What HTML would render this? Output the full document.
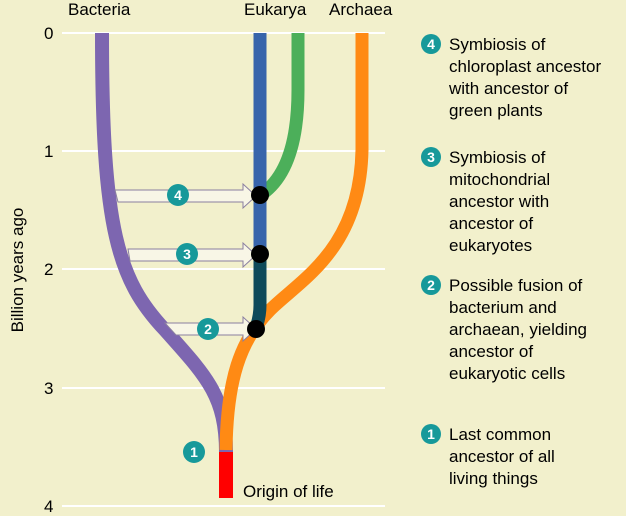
<!DOCTYPE html>
<html><head><style>
body{margin:0;background:#f2f0cc;}
svg{display:block}
text{font-family:"Liberation Sans",Arial,sans-serif;}
</style></head><body>
<svg width="626" height="516" viewBox="0 0 626 516">
<rect width="626" height="516" fill="#f2f0cc"/>
<g stroke="#ffffff" stroke-width="2">
<line x1="62" y1="33" x2="385" y2="33"/><line x1="62" y1="151" x2="385" y2="151"/>
<line x1="62" y1="269" x2="385" y2="269"/><line x1="62" y1="388" x2="385" y2="388"/>
<line x1="62" y1="506" x2="385" y2="506"/>
</g>
<g font-size="17" fill="#000">
<text x="44" y="39">0</text><text x="44" y="157">1</text><text x="44" y="275">2</text>
<text x="44" y="394">3</text><text x="44" y="512">4</text>
<text x="68" y="15">Bacteria</text><text x="244" y="15">Eukarya</text><text x="329" y="15">Archaea</text>
<text x="243" y="497">Origin of life</text>
<text transform="translate(23,270) rotate(-90)" text-anchor="middle">Billion years ago</text>
</g>
<rect x="219" y="452" width="14" height="46" fill="#ff0000"/>
<path d="M102,33 C102,230 118,280 165,330 C205,375 226,395 226,452" stroke="#7d66b0" stroke-width="14" fill="none"/>
<path d="M362,33 L362,150 C360,250 300,280 270,310 C240,340 227,380 226,450" stroke="#ff8a14" stroke-width="13" fill="none"/>
<path d="M298,33 L298,90 C298,150 282,180 262,194" stroke="#4caf5a" stroke-width="13" fill="none"/>
<line x1="260" y1="33" x2="260" y2="260" stroke="#3865ab" stroke-width="13"/>
<path d="M260,258 L260,305 C260,318 257,324 256,328" stroke="#0e4a5a" stroke-width="13" fill="none"/>
<g fill="#f8f6e6" stroke="#8a7fa0" stroke-width="1">
<path d="M115,190 L243,190 L243,184 L256,196 L243,208 L243,202 L118,202 Z"/>
<path d="M128,249 L243,249 L243,243 L256,255 L243,267 L243,261 L130,261 Z"/>
<path d="M165,323 L243,323 L243,317 L256,329 L243,341 L243,335 L176,335 Z"/>
</g>
<g fill="#000"><circle cx="260" cy="195" r="9"/><circle cx="260" cy="254" r="9"/><circle cx="256" cy="329" r="9"/></g>
<g fill="#17999a"><circle cx="178" cy="195" r="11"/><circle cx="187" cy="254" r="11"/><circle cx="208" cy="329" r="11"/><circle cx="194" cy="452" r="11"/>
<circle cx="431" cy="44" r="10"/><circle cx="431" cy="157" r="10"/><circle cx="431" cy="285" r="10"/><circle cx="431" cy="434" r="10"/></g>
<g fill="#fff" font-size="14" font-weight="bold" text-anchor="middle">
<text x="178" y="200">4</text><text x="187" y="259">3</text><text x="208" y="334">2</text><text x="194" y="457">1</text>
<text x="431" y="49">4</text><text x="431" y="162">3</text><text x="431" y="290">2</text><text x="431" y="439">1</text>
</g>
<g font-size="17" fill="#000">
<text x="449" y="50">Symbiosis of</text><text x="449" y="72">chloroplast ancestor</text><text x="449" y="94">with ancestor of</text><text x="449" y="116">green plants</text>
<text x="449" y="163">Symbiosis of</text><text x="449" y="185">mitochondrial</text><text x="449" y="207">ancestor with</text><text x="449" y="229">ancestor of</text><text x="449" y="251">eukaryotes</text>
<text x="449" y="291">Possible fusion of</text><text x="449" y="313">bacterium and</text><text x="449" y="335">archaean, yielding</text><text x="449" y="357">ancestor of</text><text x="449" y="379">eukaryotic cells</text>
<text x="449" y="440">Last common</text><text x="449" y="462">ancestor of all</text><text x="449" y="484">living things</text>
</g>
</svg>
</body></html>
